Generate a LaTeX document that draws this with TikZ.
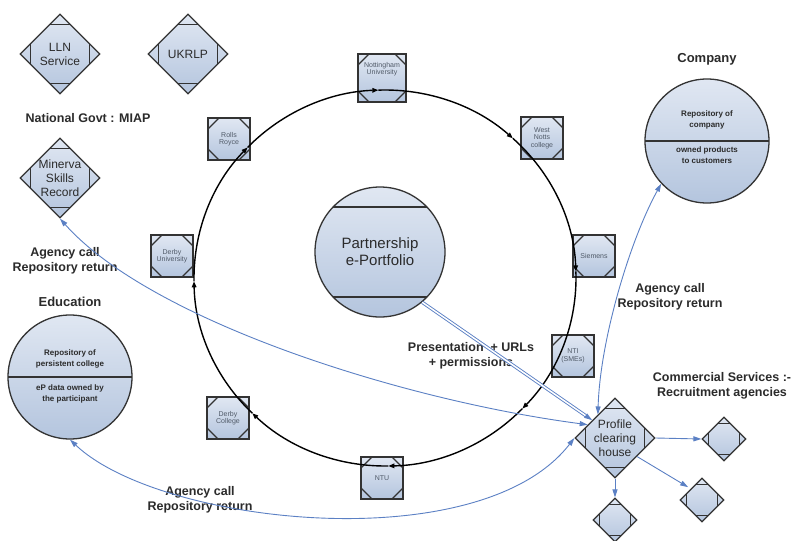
\documentclass[tikz,border=0pt]{standalone}
\usepackage{fontspec}
\setmainfont{Liberation Sans}
\usetikzlibrary{arrows.meta,shapes.geometric,calc}
\definecolor{fillA}{HTML}{E0E7F2}
\definecolor{fillB}{HTML}{B4C5DE}
\definecolor{bl}{HTML}{5B80C4}
\definecolor{txt}{HTML}{2B2B2B}
\definecolor{sqtxt}{HTML}{505A68}
\newcommand\diamcuts[1]{%
  \draw[line width=1.1pt]
   ($(path picture bounding box.north)+(-#1-2,#1)$) -- ($(path picture bounding box.north)+(#1+2,#1)$)
   ($(path picture bounding box.south)+(-#1-2,-#1)$) -- ($(path picture bounding box.south)+(#1+2,-#1)$)
   ($(path picture bounding box.west)+(#1,-#1-2)$) -- ($(path picture bounding box.west)+(#1,#1+2)$)
   ($(path picture bounding box.east)+(-#1,-#1-2)$) -- ($(path picture bounding box.east)+(-#1,#1+2)$);}
\newcommand\sqcuts{%
  \draw[line width=1.1pt]
   ($(path picture bounding box.north west)+(11,0)$) -- ($(path picture bounding box.north west)+(0,11)$)
   ($(path picture bounding box.north east)+(-11,0)$) -- ($(path picture bounding box.north east)+(0,11)$)
   ($(path picture bounding box.south west)+(11,0)$) -- ($(path picture bounding box.south west)+(0,-11)$)
   ($(path picture bounding box.south east)+(-11,0)$) -- ($(path picture bounding box.south east)+(0,-11)$);}
\begin{document}
\begin{tikzpicture}[x=1pt,y=-1pt,
  shd/.style={top color=fillA,bottom color=fillB},
  ringbox/.style={rectangle,draw=black!80,line width=1.3pt,shd,minimum width=#1,minimum height=#1,inner sep=0pt,
    font=\fontsize{7}{7.5}\selectfont,text=sqtxt,align=center,path picture={\sqcuts}},
  dia/.style={diamond,draw=black!80,line width=1.3pt,shd,minimum width=80pt,minimum height=80pt,inner sep=0pt,
    path picture={\diamcuts{10}}},
  sdia/.style={diamond,draw=black!80,line width=1.2pt,shd,minimum width=44pt,minimum height=44pt,inner sep=0pt,
    path picture={\diamcuts{6}}},
  dtext/.style={font=\fontsize{12}{14}\selectfont,text=txt,align=center},
  circ/.style={circle,draw=black!80,line width=1.3pt,shd,minimum size=124pt,inner sep=0pt,
    path picture={\draw[line width=1.3pt] (path picture bounding box.west) -- (path picture bounding box.east);}},
  pcirc/.style={circle,draw=black!80,line width=1.3pt,shd,minimum size=130pt,inner sep=0pt,
    font=\fontsize{15}{17}\selectfont,text=txt,align=center,
    path picture={\draw[line width=1.3pt]
      ($(path picture bounding box.center)+(-70,-45)$) -- ($(path picture bounding box.center)+(70,-45)$)
      ($(path picture bounding box.center)+(-70,45)$) -- ($(path picture bounding box.center)+(70,45)$);}},
  ctext/.style={font=\bfseries\fontsize{8}{11.5}\selectfont,text=txt,align=center},
  ttl/.style={font=\bfseries\fontsize{13}{15}\selectfont,text=txt},
  lbl/.style={font=\bfseries\fontsize{12.5}{15}\selectfont,text=txt,align=center},
  ring/.style={line width=1.4pt,-{Triangle[length=6pt,width=4.5pt]}},
  bline/.style={draw=bl,line width=0.9pt},
  btip/.tip={Triangle[length=8pt,width=5pt]},
]
\fill[white] (0,0) rectangle (796,541);
\useasboundingbox (0,0) rectangle (796,541);

% ring partner boxes
\node[ringbox=48pt] (nott) at (382,78) {Nottingham\\University\\[12pt]};
\node[ringbox=42pt] (wnc) at (542,138) {West\\Notts\\college};
\node[ringbox=42pt] (rr) at (229,139) {Rolls\\Royce};
\node[ringbox=42pt] (dbu) at (172,256) {Derby\\University};
\node[ringbox=42pt] (sie) at (594,256) {Siemens};
\node[ringbox=42pt] (nti) at (573,356) {NTI\\(SMEs)};
\node[ringbox=42pt] (dbc) at (228,418) {Derby\\College};
\node[ringbox=42pt] (ntu) at (382,478) {NTU};

% ring
\foreach \a/\n in {224/r1,268/r2,312/r3,358/r4,44/r5,89/r6,134/r7,179/r8}
  \path (385,278) ++(\a:191 and 188) coordinate (\n);
\draw[ring] (r1) arc[start angle=224,end angle=268,x radius=191,y radius=188];
\draw[ring] (r2) arc[start angle=268,end angle=312,x radius=191,y radius=188];
\draw[ring] (r3) arc[start angle=312,end angle=358,x radius=191,y radius=188];
\draw[ring] (r4) arc[start angle=-2,end angle=44,x radius=191,y radius=188];
\draw[ring] (r5) arc[start angle=44,end angle=89,x radius=191,y radius=188];
\draw[ring] (r6) arc[start angle=89,end angle=134,x radius=191,y radius=188];
\draw[ring] (r7) arc[start angle=134,end angle=179,x radius=191,y radius=188];
\draw[ring] (r8) arc[start angle=179,end angle=224,x radius=191,y radius=188];

% centre
\node[pcirc] (part) at (380,252) {Partnership\\e-Portfolio};

% diamonds
\node[dia,label={[dtext]center:{LLN\\Service}}] (lln) at (60,54) {};
\node[dia,label={[dtext]center:{UKRLP}}] (ukrlp) at (188,54) {};
\node[dia,label={[dtext]center:{Minerva\\Skills\\Record}}] (min) at (60,178) {};
\node[dia,label={[dtext]center:{Profile\\clearing\\house}}] (pch) at (615,438) {};
\node[sdia] (cd1) at (724,439) {};
\node[sdia] (cd2) at (702,500) {};
\node[sdia] (cd3) at (615,520) {};

% repositories
\node[circ] (edu) at (70,377) {};
\node[ctext] (edu1) at (70,359) {Repository of\\persistent college};
\node[ctext] (edu2) at (70,394) {eP data owned by\\the participant};
\node[ttl] (edut) at (70,302) {Education};
\node[circ] (comp) at (707,141) {};
\node[ctext] (comp1) at (707,120) {Repository of\\company};
\node[ctext] (comp2) at (707,155) {owned products\\to customers};
\node[ttl] (compt) at (707,59) {Company};

% labels
\node[lbl] (ngov) at (88,118) {National Govt : MIAP};
\node[lbl] (ac1) at (65,261) {Agency call\\Repository return};
\node[lbl] (ac2) at (670,297) {Agency call\\Repository return};
\node[lbl] (ac3) at (200,500) {Agency call\\Repository return};
\node[lbl] (pres) at (471,356) {Presentation \ + URLs\\+ permissions};
\node[lbl] (comm) at (722,386) {Commercial Services :-\\Recruitment agencies};

% blue connectors
\draw[bline,btip-btip] (min.south) .. controls (150,320) and (400,400) .. (pch.154);
\draw[bline,btip-btip] (edu.south) .. controls (160,525) and (480,560) .. (pch.west);
\draw[bline,btip-btip] (pch.126) .. controls (600,340) and (630,240) .. (comp.223);
\draw[bline,double=white,double distance=1.5pt,-btip] (part.-50) -- (pch.142);
\draw[bline,-btip] (pch.east) -- (cd1.west);
\draw[bline,-btip,shorten >=3pt] (pch.-40) -- (cd2.135);
\draw[bline,-btip] (pch.south) -- (cd3.north);
\end{tikzpicture}
\end{document}
